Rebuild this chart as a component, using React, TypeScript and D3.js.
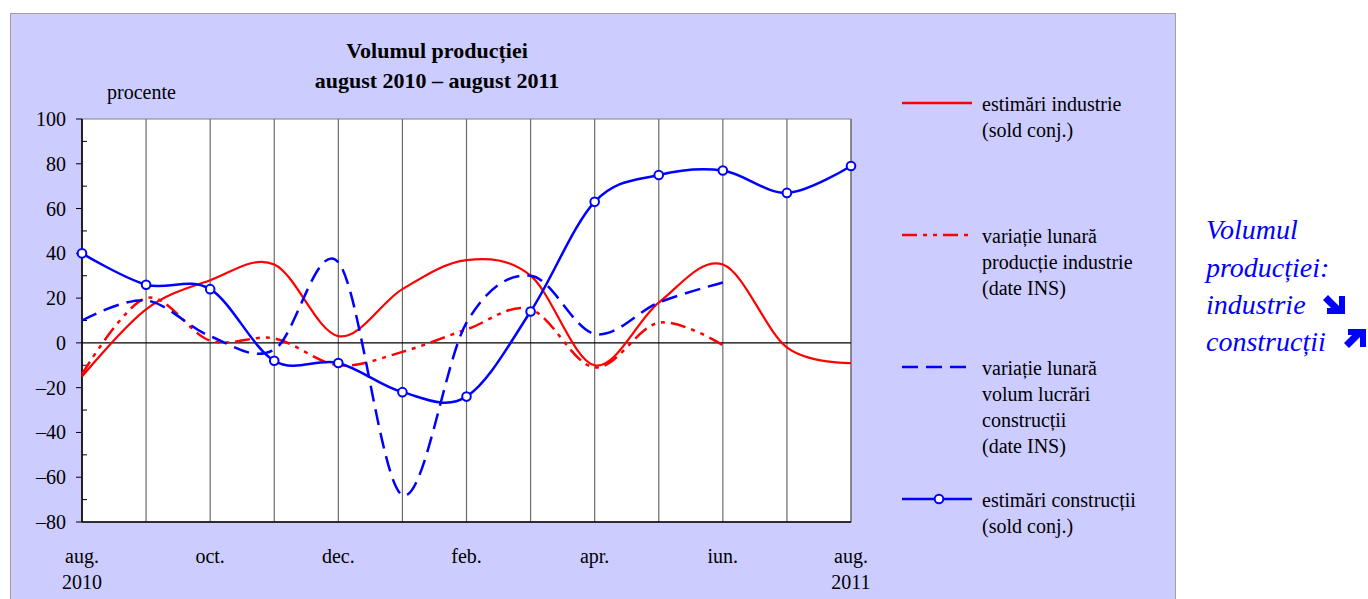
import * as d3 from "d3";
import React from "react";

// months aug 2010 .. aug 2011
const months = ["aug.", "sep.", "oct.", "nov.", "dec.", "ian.", "feb.", "mar.", "apr.", "mai", "iun.", "iul.", "aug."];
const yearLabels = ["2010", "", "", "", "", "", "", "", "", "", "", "", "2011"];
const yTicks = [100, 80, 60, 40, 20, 0, -20, -40, -60, -80];

const estimariIndustrie = [-15, 15, 28, 35, 3, 24, 37, 30, -10, 18, 35, -2, -9];
const variatieIndustrie = [-14, 20, 1, 2, -10, -4, 6, 15, -11, 9, -1];
const variatieConstructii = [10, 19, 3, -3, 36, -68, 9, 30, 4, 18, 27];
const estimariConstructii = [40, 26, 24, -8, -9, -22, -24, 14, 63, 75, 77, 67, 79];

const W = 1368;
const H = 599;
const serif = "'Liberation Serif', 'Times New Roman', serif";

const x = d3.scaleLinear().domain([0, months.length - 1]).range([82, 851]);
const y = d3.scaleLinear().domain([-80, 100]).range([522, 119]);

const line = d3
  .line<number>()
  .x((_, i) => x(i))
  .y((d) => y(d))
  .curve(d3.curveCardinal.tension(0));

const fmt = (v: number) => (v < 0 ? "\u2013" + Math.abs(v) : String(v));

const DASH = "16,8";
const DASHDOT = "15,6,4,6,4,6";

const legend = [
  { color: "#ff0000", dash: "", marker: false, lines: ["estimări industrie", "(sold conj.)"], y: 103 },
  { color: "#ff0000", dash: DASHDOT, marker: false, lines: ["variație lunară", "producție industrie", "(date INS)"], y: 235 },
  { color: "#0000ff", dash: DASH, marker: false, lines: ["variație lunară", "volum lucrări", "construcții", "(date INS)"], y: 367 },
  { color: "#0000ff", dash: "", marker: true, lines: ["estimări construcții", "(sold conj.)"], y: 499 },
];

// thick "down-right" arrow, mirrored for "up-right"
const ARROW =
  "M1323,300 L1328,295 L1339,306 L1339,296 L1345,296 L1345,314 L1327,314 L1327,308 L1331,308 Z";

const App: React.FC = () => {
  const minorTicks = d3.range(-70, 100, 20);
  return (
    <svg
      width={W}
      height={H}
      style={{ position: "absolute", left: 0, top: 0, display: "block" }}
      fontFamily={serif}
    >
      <rect x={0} y={0} width={W} height={H} fill="#ffffff" />
      <rect x={10.5} y={13.5} width={1165} height={600} fill="#ccccff" stroke="#a0a0a0" />

      {/* title */}
      <text x={437} y={58} textAnchor="middle" fontSize={22} fontWeight="bold">
        Volumul producției
      </text>
      <text x={437} y={88} textAnchor="middle" fontSize={22} fontWeight="bold">
        august 2010 – august 2011
      </text>
      <text x={107} y={99} fontSize={20}>
        procente
      </text>

      {/* plot area */}
      <rect x={82} y={119} width={769} height={403} fill="#ffffff" stroke="#808080" />
      {months.map((_, i) => (
        <line key={"g" + i} x1={x(i)} x2={x(i)} y1={119} y2={522} stroke="#6b6b6b" strokeWidth={1.2} />
      ))}
      <line x1={82} x2={851} y1={y(0)} y2={y(0)} stroke="#000" strokeWidth={1.2} />
      <line x1={82} x2={82} y1={119} y2={522} stroke="#000" strokeWidth={1.5} />
      <line x1={82} x2={851} y1={522} y2={522} stroke="#000" strokeWidth={1.5} />
      {yTicks.map((t) => (
        <g key={"t" + t}>
          <line x1={76} x2={82} y1={y(t)} y2={y(t)} stroke="#000" />
          <text x={66} y={y(t)} dy="0.35em" textAnchor="end" fontSize={20}>
            {fmt(t)}
          </text>
        </g>
      ))}
      {minorTicks.map((t) => (
        <line key={"m" + t} x1={82} x2={87} y1={y(t)} y2={y(t)} stroke="#000" />
      ))}
      {months.map((m, i) =>
        i % 2 === 0 ? (
          <text key={"x" + i} x={x(i)} y={563} textAnchor="middle" fontSize={20}>
            {m}
          </text>
        ) : null
      )}
      {yearLabels.map((yl, i) =>
        yl ? (
          <text key={"yl" + i} x={x(i)} y={589} textAnchor="middle" fontSize={20}>
            {yl}
          </text>
        ) : null
      )}

      {/* series */}
      <path d={line(variatieIndustrie) || ""} fill="none" stroke="#ff0000" strokeWidth={2.5} strokeDasharray={DASHDOT} />
      <path d={line(estimariIndustrie) || ""} fill="none" stroke="#ff0000" strokeWidth={2.2} />
      <path d={line(variatieConstructii) || ""} fill="none" stroke="#0000ff" strokeWidth={2.5} strokeDasharray={DASH} />
      <path d={line(estimariConstructii) || ""} fill="none" stroke="#0000ff" strokeWidth={2.5} />
      {estimariConstructii.map((d, i) => (
        <circle key={"c" + i} cx={x(i)} cy={y(d)} r={4.3} fill="#ffffff" stroke="#0000ff" strokeWidth={2} />
      ))}

      {/* legend */}
      {legend.map((l, k) => (
        <g key={"l" + k}>
          <line x1={902} x2={972} y1={l.y} y2={l.y} stroke={l.color} strokeWidth={2.5} strokeDasharray={l.dash} />
          {l.marker && <circle cx={939} cy={l.y} r={4.3} fill="#ffffff" stroke={l.color} strokeWidth={2} />}
          {l.lines.map((t, j) => (
            <text key={j} x={982} y={l.y + 8 + j * 26} fontSize={20}>
              {t}
            </text>
          ))}
        </g>
      ))}

      {/* side note */}
      <g fill="#0000ff" fontStyle="italic" fontSize={28}>
        <text x={1206} y={239}>Volumul</text>
        <text x={1206} y={277}>producției:</text>
        <text x={1206} y={314}>industrie</text>
        <text x={1206} y={351}>construcții</text>
      </g>
      <g fill="#0000ff">
        <path d={ARROW} />
        <path d={ARROW} transform="translate(21,643) scale(1,-1)" />
      </g>
    </svg>
  );
};

export default App;
